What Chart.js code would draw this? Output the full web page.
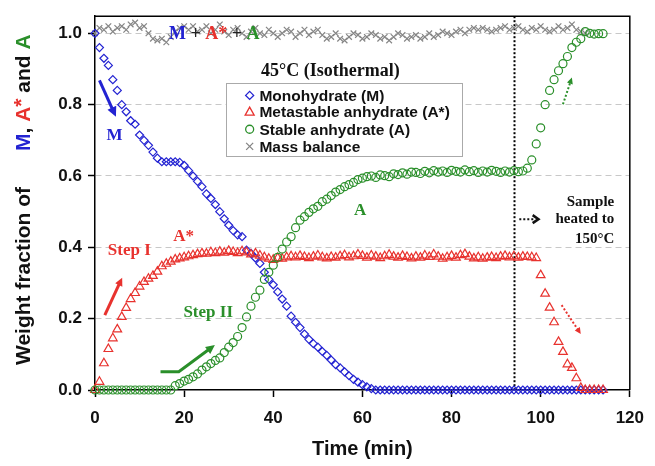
<!DOCTYPE html>
<html>
<head>
<meta charset="utf-8">
<script src="https://cdn.jsdelivr.net/npm/chart.js@4/dist/chart.umd.min.js"></script>
<style>
  html, body { margin: 0; padding: 0; background: #fff; }
</style>
</head>
<body>
<canvas id="chart" width="655" height="466"></canvas>
<script>
// time (min)
const time = [
  0, 1, 2, 3, 4, 5, 6, 7, 8, 9,
  10, 11, 12, 13, 14, 15, 16, 17, 18, 19,
  20, 21, 22, 23, 24, 25, 26, 27, 28, 29,
  30, 31, 32, 33, 34, 35, 36, 37, 38, 39,
  40, 41, 42, 43, 44, 45, 46, 47, 48, 49,
  50, 51, 52, 53, 54, 55, 56, 57, 58, 59,
  60, 61, 62, 63, 64, 65, 66, 67, 68, 69,
  70, 71, 72, 73, 74, 75, 76, 77, 78, 79,
  80, 81, 82, 83, 84, 85, 86, 87, 88, 89,
  90, 91, 92, 93, 94, 95, 96, 97, 98, 99,
  100, 101, 102, 103, 104, 105, 106, 107, 108, 109,
  110, 111, 112, 113, 114
];

const monohydrate = [
  1.00, 0.96, 0.93, 0.91, 0.87, 0.84, 0.80, 0.78, 0.755, 0.745,
  0.715, 0.70, 0.686, 0.667, 0.65, 0.64, 0.64, 0.64, 0.64, 0.638,
  0.63, 0.615, 0.60, 0.585, 0.57, 0.55, 0.537, 0.52, 0.50, 0.48,
  0.462, 0.447, 0.435, 0.43, 0.392, 0.383, 0.37, 0.355, 0.33, 0.31,
  0.295, 0.275, 0.255, 0.235, 0.207, 0.19, 0.175, 0.157, 0.142, 0.13,
  0.12, 0.108, 0.097, 0.084, 0.071, 0.062, 0.051, 0.04, 0.03, 0.022,
  0.015, 0.009, 0.004, 0, 0, 0, 0, 0, 0, 0,
  0, 0, 0, 0, 0, 0, 0, 0, 0, 0,
  0, 0, 0, 0, 0, 0, 0, 0, 0, 0,
  0, 0, 0, 0, 0, 0, 0, 0, 0, 0,
  0, 0, 0, 0, 0, 0, 0, 0, 0, 0,
  0, 0, 0, 0, 0
];

const metastable = [
  0, 0.023, 0.075, 0.115, 0.145, 0.17, 0.205, 0.23, 0.255, 0.272,
  0.29, 0.303, 0.312, 0.32, 0.332, 0.347, 0.354, 0.36, 0.366, 0.369,
  0.372, 0.375, 0.378, 0.381, 0.383, 0.382, 0.386, 0.384, 0.388, 0.385,
  0.39, 0.387, 0.384, 0.389, 0.386, 0.38, 0.383, 0.377, 0.372, 0.368,
  0.365, 0.37, 0.368, 0.372, 0.375, 0.372, 0.376, 0.373, 0.37, 0.374,
  0.377, 0.372, 0.369, 0.373, 0.371, 0.375, 0.378, 0.372, 0.375, 0.38,
  0.376, 0.371, 0.377, 0.374, 0.37, 0.375, 0.379, 0.374, 0.371, 0.376,
  0.373, 0.369, 0.374, 0.371, 0.377, 0.373, 0.38, 0.374, 0.368, 0.372,
  0.376, 0.371, 0.378, 0.381, 0.374, 0.369, 0.372, 0.368, 0.371, 0.373,
  0.37, 0.374, 0.376, 0.372, 0.375, 0.371, 0.374, 0.373, 0.372, 0.37,
  0.322, 0.27, 0.231, 0.19, 0.135, 0.107, 0.072, 0.062, 0.033, 0.006,
  0, 0, 0, 0, 0
];

const stable = [
  0, 0, 0, 0, 0, 0, 0, 0, 0, 0,
  0, 0, 0, 0, 0, 0, 0, 0, 0.012, 0.018,
  0.025, 0.03, 0.037, 0.045, 0.056, 0.065, 0.074, 0.083, 0.09, 0.105,
  0.12, 0.133, 0.15, 0.175, 0.205, 0.235, 0.26, 0.28, 0.31, 0.33,
  0.35, 0.372, 0.395, 0.415, 0.43, 0.455, 0.476, 0.486, 0.498, 0.508,
  0.515, 0.528, 0.535, 0.545, 0.555, 0.562, 0.57, 0.576, 0.582, 0.59,
  0.594, 0.598, 0.6, 0.596, 0.603, 0.601, 0.598, 0.606, 0.604, 0.609,
  0.605, 0.611, 0.61, 0.607, 0.613, 0.609, 0.615, 0.611, 0.614, 0.61,
  0.616, 0.613, 0.611, 0.617, 0.612, 0.615, 0.61, 0.614, 0.611, 0.616,
  0.613, 0.61, 0.614, 0.611, 0.615, 0.612, 0.614, 0.622, 0.645, 0.69,
  0.735, 0.8, 0.84, 0.87, 0.895, 0.915, 0.935, 0.96, 0.975, 0.985,
  1.005, 1.0, 0.998, 0.999, 0.999
];

// mass balance stops at 110 min
const massBalance = [
  1.0, 1.015, 1.01, 1.02, 1.005, 1.015, 1.02, 1.01, 1.025, 1.03,
  1.015, 1.02, 1.0, 0.985, 0.98, 0.985, 0.975, 0.99, 1.005, 1.015,
  1.02, 1.01, 1.02, 1.005, 1.01, 1.02, 1.0, 1.01, 1.025, 1.005,
  0.995, 1.01, 1.015, 1.0, 0.99, 1.005, 1.015, 1.0, 0.995, 1.01,
  1.0, 0.99, 1.0, 1.01, 1.005, 0.99, 1.0, 1.01, 0.995, 1.005,
  1.01, 0.995, 0.985, 0.99, 1.0, 0.985, 0.98, 0.99, 1.0, 0.995,
  0.985, 0.99, 1.0, 0.995, 0.985, 0.99, 0.98, 0.99, 1.0, 0.995,
  0.985, 0.99, 0.995, 0.985, 0.99, 1.0, 0.99, 0.995, 1.005, 1.0,
  0.995, 1.005, 1.01, 1.0, 1.01, 1.015, 1.01, 1.015, 1.01, 1.005,
  1.01, 1.015, 1.02, 1.01, 1.015, 1.02, 1.01, 1.005, 1.015, 1.01,
  1.02, 1.01, 1.005, 1.01, 1.02, 1.01, 1.015, 1.025, 1.01, 1.005,
  1.0
];

const xTicks = [0, 20, 40, 60, 80, 100, 120];
const yTicks = [0, 0.2, 0.4, 0.6, 0.8, 1.0];
const heatStart = 94; // sample heated to 150°C from here

const BLUE = '#2323d2';
const RED = '#e8322e';
const GREEN = '#2a8f2a';
const GRAY = '#858585';
const SANS = 'Arial, "Liberation Sans", sans-serif';
const SERIF = '"Times New Roman", "Liberation Serif", serif';

const pts = ys => ys.map((y, i) => ({x: time[i], y}));

function richText(ctx, parts, x, y) {
    let cx = x;
    parts.forEach(p => {
        ctx.font = p.f;
        ctx.fillStyle = p.c;
        if (p.at !== undefined) cx = p.at;
        ctx.fillText(p.t, cx, y + (p.dy || 0));
        cx += ctx.measureText(p.t).width;
    });
}

function arrowLine(ctx, pts, color, lw, dash, head) {
    ctx.save();
    ctx.strokeStyle = color;
    ctx.fillStyle = color;
    ctx.lineWidth = lw;
    ctx.setLineDash(dash);
    const n = pts.length;
    const [x1, y1] = pts[n - 2];
    const [x2, y2] = pts[n - 1];
    const ang = Math.atan2(y2 - y1, x2 - x1);
    const bx = x2 - Math.cos(ang) * head * 0.8;
    const by = y2 - Math.sin(ang) * head * 0.8;
    ctx.beginPath();
    ctx.moveTo(pts[0][0], pts[0][1]);
    for (let i = 1; i < n - 1; i++) ctx.lineTo(pts[i][0], pts[i][1]);
    ctx.lineTo(bx, by);
    ctx.stroke();
    ctx.setLineDash([]);
    ctx.beginPath();
    ctx.moveTo(x2, y2);
    ctx.lineTo(x2 - Math.cos(ang - 0.45) * head, y2 - Math.sin(ang - 0.45) * head);
    ctx.lineTo(x2 - Math.cos(ang + 0.45) * head, y2 - Math.sin(ang + 0.45) * head);
    ctx.closePath();
    ctx.fill();
    ctx.restore();
}

function marker(ctx, style, x, y, color) {
    ctx.save();
    ctx.strokeStyle = color;
    ctx.lineWidth = 1.3;
    ctx.beginPath();
    if (style === 'rectRot') {
        ctx.moveTo(x, y - 4); ctx.lineTo(x + 4, y); ctx.lineTo(x, y + 4); ctx.lineTo(x - 4, y); ctx.closePath();
    } else if (style === 'triangle') {
        ctx.moveTo(x, y - 5); ctx.lineTo(x + 4.5, y + 3); ctx.lineTo(x - 4.5, y + 3); ctx.closePath();
    } else if (style === 'circle') {
        ctx.arc(x, y, 4, 0, Math.PI * 2);
    } else {
        ctx.moveTo(x - 3.5, y - 3.5); ctx.lineTo(x + 3.5, y + 3.5);
        ctx.moveTo(x + 3.5, y - 3.5); ctx.lineTo(x - 3.5, y + 3.5);
    }
    ctx.stroke();
    ctx.restore();
}

const overlay = {
    id: 'overlay',
    beforeDatasetsDraw(chart) {
        const {ctx, chartArea: a, scales: {x}} = chart;
        const vx = Math.round(x.getPixelForValue(heatStart)) + 0.5;
        ctx.save();
        ctx.strokeStyle = '#000';
        ctx.lineWidth = 2;
        ctx.setLineDash([2, 2]);
        ctx.beginPath();
        ctx.moveTo(vx, a.top);
        ctx.lineTo(vx, a.bottom);
        ctx.stroke();
        ctx.restore();
    },
    afterDatasetsDraw(chart) {
        const {ctx, chartArea: a, scales: {x, y}} = chart;
        const px = v => x.getPixelForValue(v);
        const py = v => y.getPixelForValue(v);

        // frame top/right
        ctx.save();
        ctx.strokeStyle = '#000';
        ctx.lineWidth = 1.5;
        ctx.beginPath();
        ctx.moveTo(a.left, a.top);
        ctx.lineTo(a.right, a.top);
        ctx.lineTo(a.right, a.bottom);
        ctx.stroke();
        ctx.restore();

        ctx.save();
        ctx.textBaseline = 'middle';
        ctx.textAlign = 'left';

        // M + A* + A
        const big = 'bold 18px ' + SERIF;
        richText(ctx, [
            {t: 'M', c: BLUE, f: big},
            {t: ' + ', c: '#222', f: big},
            {t: 'A*', c: RED, f: big},
            {t: ' + ', c: '#222', f: big},
            {t: 'A', c: GREEN, f: big}
        ], px(16.6), py(0.997));

        // title
        ctx.textAlign = 'center';
        ctx.fillStyle = '#111';
        ctx.font = 'bold 18px ' + SERIF;
        ctx.fillText('45°C (Isothermal)', px(52.8), py(0.894));

        // legend box
        const lx1 = px(29.4), lx2 = px(82.4), ly1 = py(0.86), ly2 = py(0.655);
        ctx.fillStyle = '#fff';
        ctx.fillRect(lx1, ly1, lx2 - lx1, ly2 - ly1);
        ctx.strokeStyle = '#aaa';
        ctx.lineWidth = 1;
        ctx.strokeRect(Math.round(lx1) + 0.5, Math.round(ly1) + 0.5, Math.round(lx2 - lx1), Math.round(ly2 - ly1));
        const items = [
            ['rectRot', BLUE, 'Monohydrate (M)'],
            ['triangle', RED, 'Metastable anhydrate (A*)'],
            ['circle', GREEN, 'Stable anhydrate (A)'],
            ['crossRot', GRAY, 'Mass balance']
        ];
        const rowsV = [0.826, 0.779, 0.731, 0.683];
        ctx.textAlign = 'left';
        ctx.font = 'bold 15.5px ' + SANS;
        items.forEach((it, i) => {
            marker(ctx, it[0], px(34.7), py(rowsV[i]), it[1]);
            ctx.fillStyle = '#111';
            ctx.fillText(it[2], px(36.9), py(rowsV[i]) + 1);
        });

        // curve labels
        ctx.textAlign = 'center';
        ctx.font = 'bold 17px ' + SERIF;
        ctx.fillStyle = BLUE;
        ctx.fillText('M', px(4.4), py(0.714));
        ctx.fillStyle = RED;
        ctx.fillText('A*', px(19.9), py(0.429));
        ctx.fillText('Step I', px(7.7), py(0.392));
        ctx.fillStyle = GREEN;
        ctx.fillText('Step II', px(25.4), py(0.216));
        ctx.fillText('A', px(59.5), py(0.504));

        // heating note
        ctx.textAlign = 'right';
        ctx.fillStyle = '#111';
        ctx.font = 'bold 15px ' + SERIF;
        ctx.fillText('Sample', px(116.5), py(0.527));
        ctx.fillText('heated to', px(116.5), py(0.479));
        ctx.fillText('150°C', px(116.5), py(0.423));
        ctx.restore();

        // arrows
        arrowLine(ctx, [[px(1.0), py(0.868)], [px(4.7), py(0.766)]], BLUE, 3, [], 11);
        arrowLine(ctx, [[px(2.2), py(0.21)], [px(6.1), py(0.315)]], RED, 3, [], 9);
        arrowLine(ctx, [[px(14.7), py(0.051)], [px(18.8), py(0.051)], [px(26.9), py(0.126)]], GREEN, 3, [], 10);
        arrowLine(ctx, [[px(105), py(0.801)], [px(107), py(0.876)]], GREEN, 2, [2, 2], 7);
        arrowLine(ctx, [[px(104.7), py(0.238)], [px(109), py(0.157)]], RED, 2, [2, 2], 7);

        // dotted pointer to the note
        const ay = py(0.479);
        ctx.save();
        ctx.strokeStyle = '#111';
        ctx.lineWidth = 2;
        ctx.setLineDash([2, 2]);
        ctx.beginPath();
        ctx.moveTo(px(95.2), ay);
        ctx.lineTo(px(98.6), ay);
        ctx.stroke();
        ctx.setLineDash([]);
        ctx.lineWidth = 2.5;
        ctx.beginPath();
        ctx.moveTo(px(98.2), ay - 4);
        ctx.lineTo(px(99.5), ay);
        ctx.lineTo(px(98.2), ay + 4);
        ctx.stroke();
        ctx.restore();
    },
    afterDraw(chart) {
        const {ctx} = chart;
        const f = 'bold 21px ' + SANS;
        ctx.save();
        ctx.translate(30, 365);
        ctx.rotate(-Math.PI / 2);
        ctx.textAlign = 'left';
        ctx.textBaseline = 'alphabetic';
        richText(ctx, [
            {t: 'Weight fraction of', c: '#111', f},
            {t: 'M', c: BLUE, f, at: 214},
            {t: ', ', c: '#111', f},
            {t: 'A', c: RED, f},
            {t: '*', c: RED, f, dy: -2},
            {t: ' and ', c: '#111', f},
            {t: 'A', c: GREEN, f}
        ], 0, 0);
        ctx.restore();
    }
};

const common = {showLine: false, pointBorderWidth: 1.2, pointBackgroundColor: 'rgba(0,0,0,0)', clip: false};

new Chart(document.getElementById('chart'), {
    type: 'scatter',
    data: {
        datasets: [
            {...common, label: 'Monohydrate (M)', data: pts(monohydrate), pointStyle: 'rectRot', pointRadius: 4, borderColor: BLUE, pointBorderColor: BLUE, order: 3},
            {...common, label: 'Metastable anhydrate (A*)', data: pts(metastable), pointStyle: 'triangle', pointRadius: 5, borderColor: RED, pointBorderColor: RED, order: 2},
            {...common, label: 'Stable anhydrate (A)', data: pts(stable), pointStyle: 'circle', pointRadius: 4, borderColor: GREEN, pointBorderColor: GREEN, order: 1},
            {...common, label: 'Mass balance', data: pts(massBalance), pointStyle: 'crossRot', pointRadius: 4, borderColor: GRAY, pointBorderColor: GRAY, order: 4}
        ]
    },
    options: {
        responsive: false,
        animation: false,
        events: [],
        layout: {padding: {top: 16, right: 17, left: 0, bottom: 0}},
        plugins: {legend: {display: false}, tooltip: {enabled: false}},
        scales: {
            x: {
                type: 'linear',
                min: 0,
                max: 120,
                afterFit: s => { s.height = 76; },
                afterBuildTicks: s => { s.ticks = xTicks.map(v => ({value: v})); },
                ticks: {color: '#111', padding: 11, font: {family: SANS, size: 17, weight: 'bold'}},
                grid: {drawOnChartArea: false, tickLength: 7, tickColor: '#000', tickWidth: 1.5},
                border: {color: '#000', width: 1.5},
                title: {display: true, text: 'Time (min)', color: '#111', font: {family: SANS, size: 20, weight: 'bold'}, padding: {top: 0, bottom: 5}}
            },
            y: {
                min: 0,
                max: 1.048,
                afterFit: s => { s.width = 95; },
                afterBuildTicks: s => { s.ticks = yTicks.map(v => ({value: v})); },
                ticks: {color: '#111', padding: 6, font: {family: SANS, size: 17, weight: 'bold'}, callback: v => v.toFixed(1)},
                grid: {color: c => (c.tick && c.tick.value === 0 ? 'rgba(0,0,0,0)' : '#c8c8c8'), tickColor: '#000', tickLength: 7, tickWidth: 1.5, tickBorderDash: []},
                border: {color: '#000', width: 1.5, dash: [6, 4]}
            }
        }
    },
    plugins: [overlay]
});
</script>
</body>
</html>
